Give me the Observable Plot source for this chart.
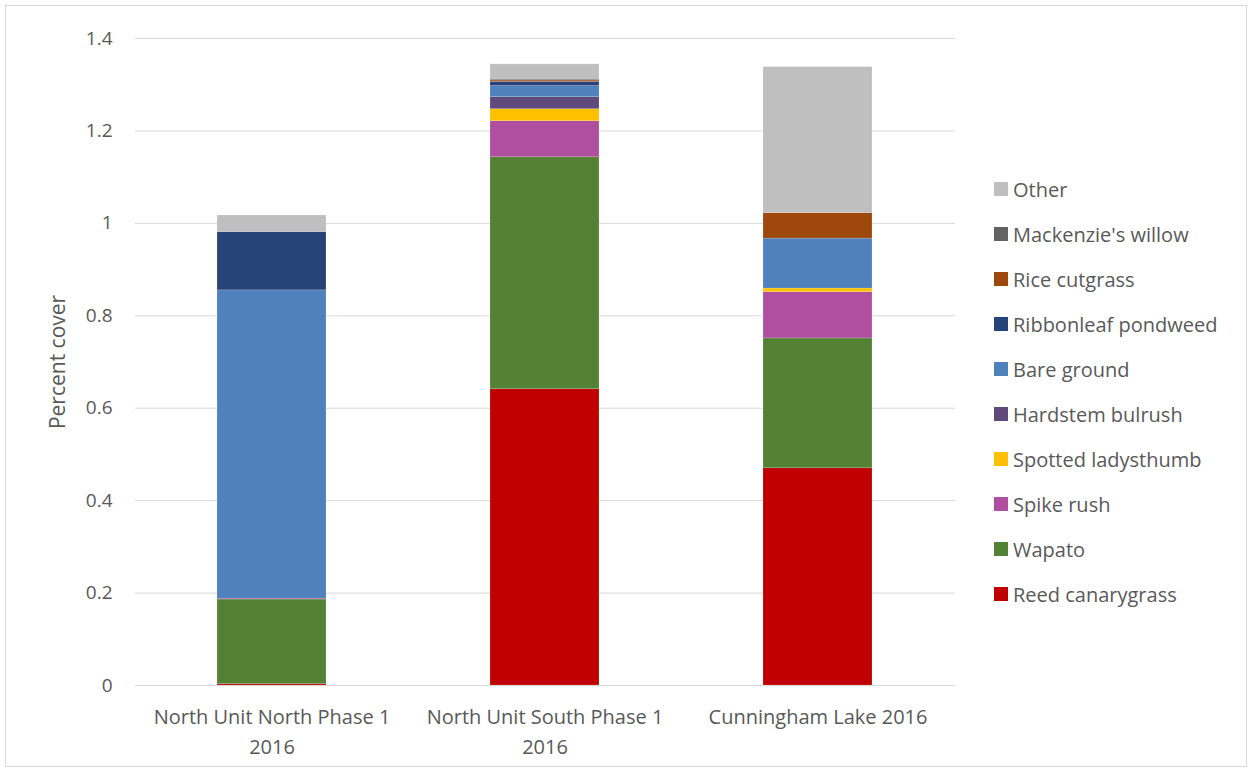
<!DOCTYPE html>
<html>
<head>
<meta charset="utf-8">
<script src="https://cdn.jsdelivr.net/npm/d3@7"></script>
<script src="https://cdn.jsdelivr.net/npm/@observablehq/plot@0.6"></script>
<style>
  html, body { margin: 0; padding: 0; background: #fff; }
  #wrap { position: relative; width: 1250px; height: 770px; font-family: "Open Sans", sans-serif; }
  #frame { position: absolute; left: 5px; top: 5px; width: 1242px; height: 762px; border: 1px solid #d9d9d9; box-sizing: border-box; pointer-events: none; }
  #legend { position: absolute; left: 994px; top: 0; font-size: 20px; color: #595959; }
  .item { position: absolute; left: 0; white-space: nowrap; display: flex; align-items: center; height: 26px; }
  .sw { width: 14px; height: 14px; margin-right: 5px; flex: none; }
  svg { position: absolute; left: 0; top: 0; }
</style>
</head>
<body>
<div id="wrap"><div id="frame"></div><div id="legend"></div></div>
<script>
const categories = ["North Unit North Phase 1 2016", "North Unit South Phase 1 2016", "Cunningham Lake 2016"];
const categoryLabels = ["North Unit North Phase 1\n2016", "North Unit South Phase 1\n2016", "Cunningham Lake 2016"];
const species = ["Reed canarygrass", "Wapato", "Spike rush", "Spotted ladysthumb", "Hardstem bulrush", "Bare ground", "Ribbonleaf pondweed", "Rice cutgrass", "Mackenzie's willow", "Other"];
const speciesColors = ["#c00000", "#548235", "#b04f9f", "#ffc000", "#604a7b", "#4f81bd", "#264478", "#9e480e", "#636363", "#bfbfbf"];
const northUnitNorth = [0.003, 0.183, 0.002, 0, 0, 0.667, 0.126, 0, 0, 0.036];
const northUnitSouth = [0.641, 0.502, 0.078, 0.026, 0.026, 0.024, 0.009, 0.003, 0.002, 0.033];
const cunninghamLake = [0.470, 0.281, 0.100, 0.008, 0, 0.108, 0, 0.055, 0, 0.316];
const yTicks = [0, 0.2, 0.4, 0.6, 0.8, 1, 1.2, 1.4];

const seriesByCategory = [northUnitNorth, northUnitSouth, cunninghamLake];
const rows = [];
categories.forEach((c, i) => {
  species.forEach((s, j) => rows.push({category: c, species: s, value: seriesByCategory[i][j]}));
});

const font = "'Open Sans', sans-serif";
const chart = Plot.plot({
  width: 1250,
  height: 770,
  marginLeft: 135,
  marginRight: 295,
  marginTop: 38,
  marginBottom: 85,
  style: {fontFamily: font, fontSize: "18px", color: "#595959", background: "transparent"},
  x: {domain: categories, paddingInner: 0.6, paddingOuter: 0.3, label: null},
  y: {domain: [0, 1.4], label: null},
  color: {domain: species, range: speciesColors},
  marks: [
    Plot.gridY(yTicks, {stroke: "#d9d9d9", strokeOpacity: 1, strokeWidth: 1}),
    Plot.barY(rows, {x: "category", y: "value", fill: "species", order: species, stroke: "#ffffff", strokeOpacity: 0.25, strokeWidth: 0.6}),
    Plot.ruleY([0], {stroke: "#d9d9d9", strokeWidth: 1}),
    Plot.axisY({ticks: yTicks, tickSize: 0, tickPadding: 23, tickFormat: d => String(d), fontSize: 19, label: null}),
    Plot.axisX({tickSize: 0, tickPadding: 17, tickFormat: d => categoryLabels[categories.indexOf(d)], fontSize: 20, lineHeight: 1.5, label: null}),
    Plot.text(["Percent cover"], {frameAnchor: "left", textAnchor: "middle", dx: -77, rotate: -90, fontSize: 21, fill: "#595959"})
  ]
});
const wrap = document.getElementById("wrap");
wrap.insertBefore(chart, document.getElementById("legend"));

const legend = document.getElementById("legend");
species.slice().reverse().forEach((s, k) => {
  const item = document.createElement("div");
  item.className = "item";
  item.style.top = (189 + 45 * k - 13) + "px";
  const sw = document.createElement("span");
  sw.className = "sw";
  sw.style.background = speciesColors[species.indexOf(s)];
  const label = document.createElement("span");
  label.textContent = s;
  item.appendChild(sw);
  item.appendChild(label);
  legend.appendChild(item);
});
</script>
</body>
</html>
